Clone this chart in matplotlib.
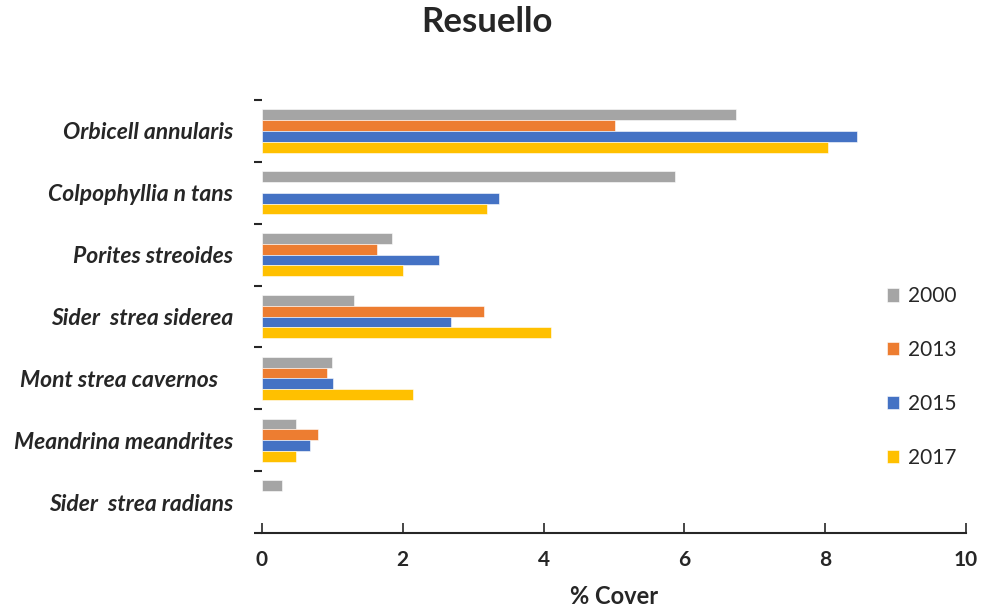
import matplotlib
matplotlib.use("Agg")
import matplotlib.pyplot as plt
import numpy as np

species = ["Orbicell annularis", "Colpophyllia n tans", "Porites streoides",
           "Sider  strea siderea", "Mont strea cavernos   ", "Meandrina meandrites",
           "Sider  strea radians"]
years = ["2000", "2013", "2015", "2017"]
v2000 = [6.74, 5.86, 1.84, 1.31, 0.99, 0.48, 0.29]
v2013 = [5.01, 0.0, 1.64, 3.16, 0.92, 0.80, 0.0]
v2015 = [8.45, 3.37, 2.51, 2.69, 1.01, 0.68, 0.0]
v2017 = [8.04, 3.20, 2.00, 4.10, 2.14, 0.49, 0.0]
series = [v2000, v2013, v2015, v2017]
colors = ["#A5A5A5", "#ED7D31", "#4472C4", "#FFC000"]
xticks = [0, 2, 4, 6, 8, 10]

txt = "#262626"
plt.rcParams['font.family'] = ['Lato', 'DejaVu Sans']

fig = plt.figure(figsize=(9.83, 6.13), dpi=100)
ax = fig.add_axes([262/983, 1-533/613, (966-262)/983, (533-100)/613])

y = np.arange(len(species))
h = 0.175
handles = []
for j, (vals, c, yr) in enumerate(zip(series, colors, years)):
    b = ax.barh(y + (j - 1.5) * h, vals, height=h, color=c, edgecolor="white",
                linewidth=0.4, label=yr)
    handles.append(b)

ax.set_xlim(0, 10)
ax.set_ylim(len(species) - 0.5, -0.5)
ax.set_xticks(xticks)
ax.set_xticklabels([str(t) for t in xticks], fontsize=15, fontweight="bold", color=txt)
ax.tick_params(axis="x", direction="in", length=7, width=1.2, color="#262626", pad=12)
ax.set_yticks(y)
ax.set_yticklabels(species, fontsize=16.5, fontweight="bold", fontstyle="italic", color=txt)
ax.tick_params(axis="y", which="major", length=0, pad=21)
ax.set_yticks(np.arange(-0.5, len(species) - 0.4, 1.0), minor=True)
ax.tick_params(axis="y", which="minor", length=6, width=1.5, color="#262626", direction="out")

for s in ["left", "top", "right"]:
    ax.spines[s].set_visible(False)
ax.spines["bottom"].set_color("#262626")
ax.spines["bottom"].set_linewidth(1.5)

ax.set_xlabel("% Cover", fontsize=17, fontweight="bold", color=txt, labelpad=11)
fig.suptitle("Resuello", fontsize=25, fontweight="bold", color=txt, x=0.495, y=0.99)

fig.legend(handles=handles, labels=years, loc="center left",
           bbox_to_anchor=(868/983, 1-377/613), frameon=False, fontsize=15,
           handlelength=0.6, handleheight=0.6, handletextpad=0.4,
           labelspacing=1.62, labelcolor=txt)

fig.savefig("out.png", dpi=100)
